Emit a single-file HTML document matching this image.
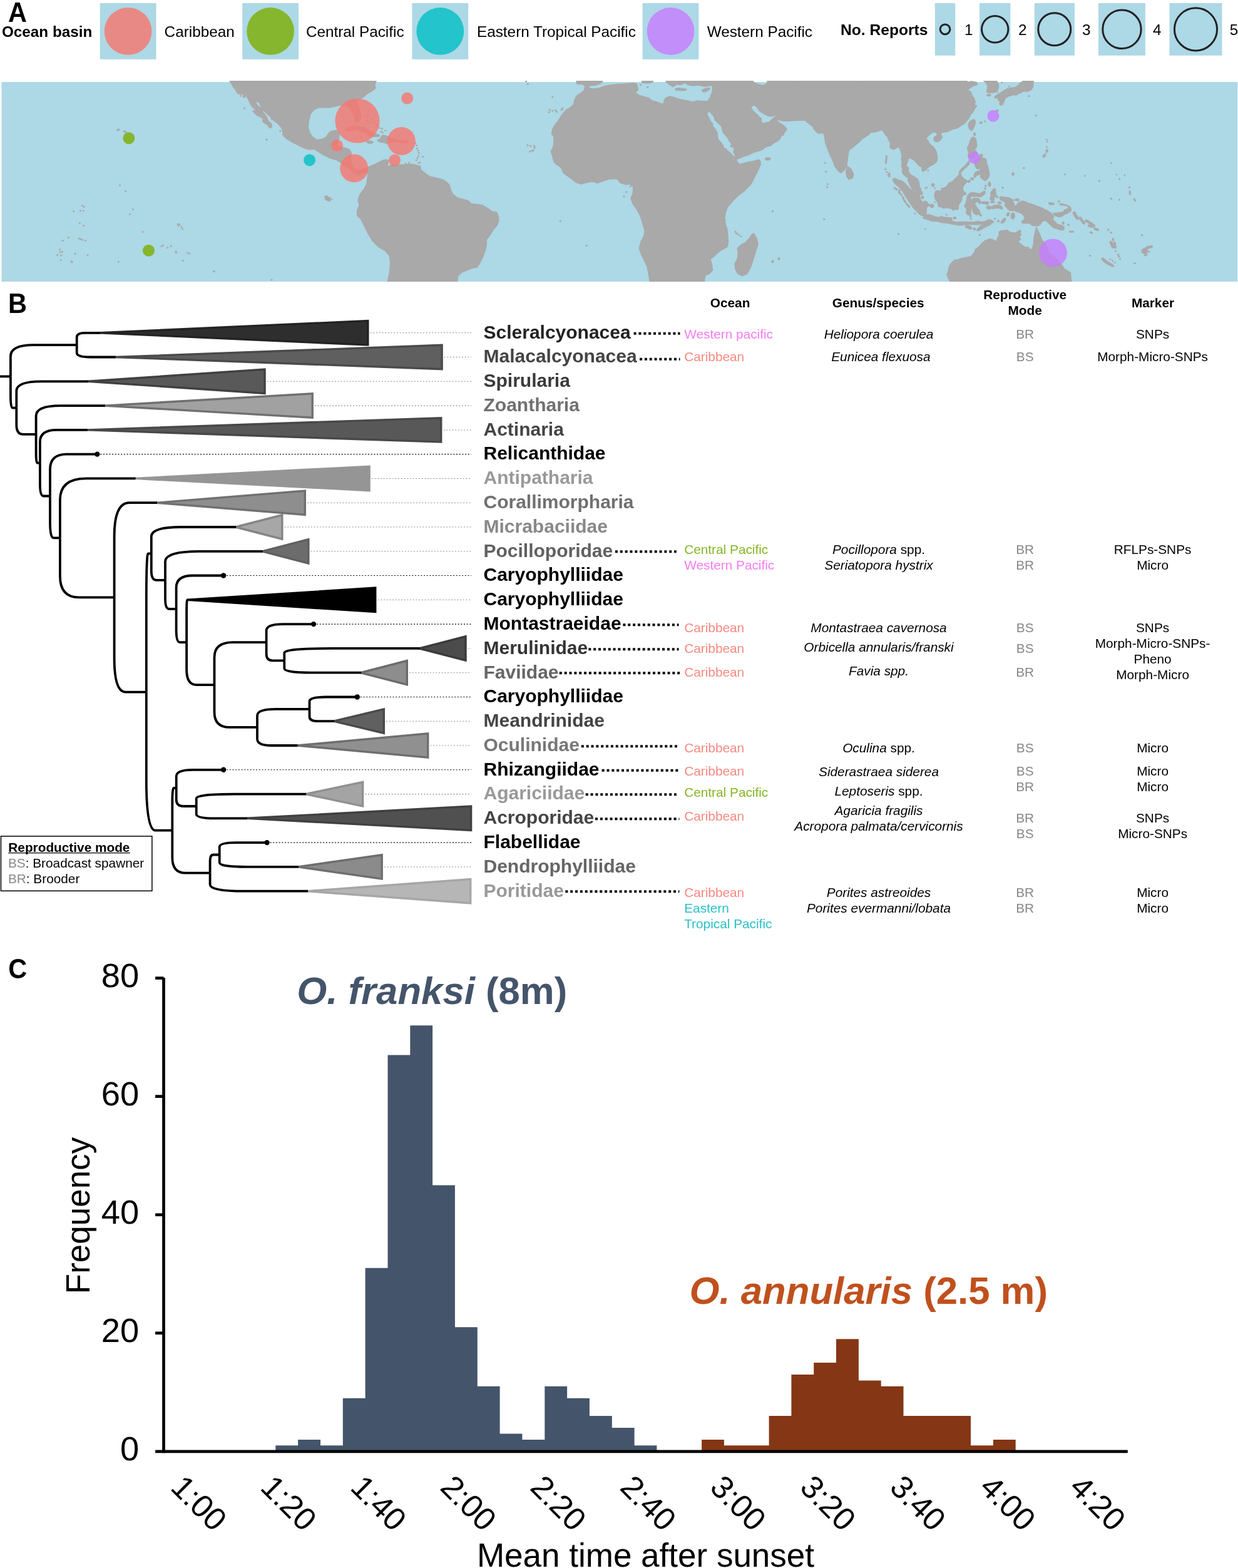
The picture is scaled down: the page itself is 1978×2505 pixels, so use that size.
<!DOCTYPE html>
<html lang="en"><head><meta charset="utf-8"><title>Figure</title>
<style>html,body{margin:0;padding:0;background:#fff}body{width:1978px;height:2505px;overflow:hidden}svg{display:block}text{font-family:'Liberation Sans', Arial, Helvetica, sans-serif}</style>
</head><body>
<svg width="1978" height="2505" viewBox="0 0 1978 2505">
<rect width="1978" height="2505" fill="#fff"/>
<g id="legendA">
<text transform="translate(13,35.1) scale(1,1.065)" font-size="41.5" font-weight="bold">A</text>
<text x="2.9" y="59.4" font-size="24.3" font-weight="bold">Ocean basin</text>
<rect x="159.7" y="5" width="89.8" height="89.8" fill="#ADD8E6"/>
<circle cx="204.6" cy="49.9" r="37.9" fill="#F8766D" fill-opacity="0.8"/>
<text x="262.6" y="59.4" font-size="24.3">Caribbean</text>
<rect x="387.2" y="5" width="89.8" height="89.8" fill="#ADD8E6"/>
<circle cx="432.1" cy="49.9" r="37.9" fill="#7CAE00" fill-opacity="0.8"/>
<text x="488.9" y="59.4" font-size="24.3">Central Pacific</text>
<rect x="658.4" y="5" width="89.8" height="89.8" fill="#ADD8E6"/>
<circle cx="703.3" cy="49.9" r="37.9" fill="#00BFC4" fill-opacity="0.8"/>
<text x="762" y="59.4" font-size="24.3">Eastern Tropical Pacific</text>
<rect x="1026.6" y="5" width="89.8" height="89.8" fill="#ADD8E6"/>
<circle cx="1071.5" cy="49.9" r="37.9" fill="#C77CFF" fill-opacity="0.8"/>
<text x="1129.7" y="59.4" font-size="24.3">Western Pacific</text>
<text x="1343" y="55.6" font-size="24.6" font-weight="bold">No. Reports</text>
<rect x="1493.8" y="5" width="32.5" height="83.7" fill="#ADD8E6"/>
<circle cx="1510" cy="46.8" r="7.9" fill="none" stroke="#222" stroke-width="3"/>
<text x="1541" y="55.6" font-size="24.3">1</text>
<rect x="1565" y="5" width="49.4" height="83.7" fill="#ADD8E6"/>
<circle cx="1589.7" cy="46.8" r="21.2" fill="none" stroke="#222" stroke-width="3"/>
<text x="1627" y="55.6" font-size="24.3">2</text>
<rect x="1652.8" y="5" width="64.1" height="83.7" fill="#ADD8E6"/>
<circle cx="1684.8" cy="46.8" r="26" fill="none" stroke="#222" stroke-width="3"/>
<text x="1729" y="55.6" font-size="24.3">3</text>
<rect x="1755" y="5" width="74.9" height="83.7" fill="#ADD8E6"/>
<circle cx="1792.5" cy="46.8" r="30.7" fill="none" stroke="#222" stroke-width="3"/>
<text x="1842" y="55.6" font-size="24.3">4</text>
<rect x="1868.5" y="5" width="84" height="83.7" fill="#ADD8E6"/>
<circle cx="1910.5" cy="46.8" r="34.1" fill="none" stroke="#222" stroke-width="3"/>
<text x="1964.8" y="55.6" font-size="24.3">5</text>
</g>
<g id="map">
<rect x="2.5" y="131" width="1974.8" height="318.9" fill="#ADD8E6"/>
<clipPath id="mc"><rect x="2.5" y="129" width="1974.8" height="320.9"/></clipPath>
<clipPath id="mc2"><rect x="2.5" y="131" width="1974.8" height="318.9"/></clipPath>
<g clip-path="url(#mc)" fill="#A9A9A9" stroke="#A9A9A9" stroke-width="1.5" stroke-linejoin="round">
<polygon points="366.6,128.3 368.8,132 372.3,138.2 375.8,142.6 378.4,147 380.2,149.6 384.6,150.5 389,150.5 392.5,152.2 395.1,155.7 397.8,161 400.4,166.3 403,170.7 405.7,172.9 409.2,175.9 407.9,177.7 405.7,175.9 404.3,177.7 406.5,180.3 410.1,183.8 413.6,185.6 417.1,187.4 420.6,190 419.7,193.5 421.5,196.1 425,197.9 427.6,199.6 429.4,202.3 431.1,204.5 433.8,203.2 434.6,200.5 432.9,197 431.1,195.3 429.4,194.4 427.6,191.7 426.7,188.2 425,185.6 422.4,182.1 419.7,178.6 418,175.1 416.2,172.4 414.9,170.2 412.7,169.8 410.9,168 409.6,165.4 408.3,162.3 411.8,162.8 414.4,163.6 415.8,167.2 417.5,170.7 418.4,174.2 420.6,176.4 424.1,179.4 427.6,183 431.1,185.6 432.9,187.4 433.3,190 436.4,191.7 439.9,194.4 443.4,197 446.9,200.5 449.6,204 451.3,207.6 452.4,216.3 452.4,216.3 457.1,221 466.5,226.9 475.8,231.6 485.2,236.2 494.6,239.1 501.6,238.1 508.6,242.1 518,248 527.4,252.6 539.1,256.1 546.1,260.8 555.5,267.9 564.8,274.9 571.9,279.6 577.7,277.2 583.6,274.9 587.8,277.2 587.1,284.3 585.9,293.6 581.2,303 575.4,310 571.9,319.4 574.2,328.7 570.7,335.8 570.7,344 576.5,349.8 581.2,359.2 588.2,373.2 595.3,385 604.6,394.3 616.3,401.3 622.2,408.4 623.8,420.1 622.2,436.5 619.2,450.5 730.4,450.5 731.6,441.2 737.5,435.3 745.7,431.8 753.9,428.3 762.1,427.1 766.7,420.1 771.4,410.7 774.9,401.3 777.3,392 777.3,382.6 782,376.8 787.8,367.4 793.7,360.4 796.7,353.3 796.5,346.3 793.7,339.3 786.7,338.1 778.5,332.3 770.3,327.6 760.9,326.4 752.7,325.2 748,320.6 739.8,318.2 730.4,315.9 723.4,310 719.9,303 717.6,294.8 709.4,287.8 700,285 696,284.3 686.6,281.9 679.6,277.2 672.6,271.4 671.4,265.5 663.2,263.2 656.2,262 646.8,263.2 639.8,263.2 630.4,264.3 624.5,263.2 619.9,266.7 618.7,265.5 621,256.1 617.5,255 611.7,256.1 604.6,259.7 597.6,263.2 591.8,265.5 585.9,268.3 578.9,270.2 571.9,272.1 563.7,267.9 561.3,260.8 560.1,251.5 561.3,244.4 557.8,238.6 550.8,236.2 543.7,235.1 539.1,230.4 540.2,228 541.4,221 542.6,212.8 539.1,208.1 529.7,209.3 525,212.8 521.5,218.7 515.6,222.2 506.3,223.4 499.3,218.7 494.6,211.7 492.2,202.3 493.4,192.9 495.7,182.4 501.6,175.4 508.6,171.8 515.6,171.4 525,171.8 532,170.7 541.4,168.3 550.4,167.9 555,169.3 558.5,171.6 560.9,175.1 562.1,178.6 563.8,182.2 565.6,185.7 567.3,189.2 568.5,192.7 567.9,195 570.3,195.3 573.2,193.9 575.5,190.4 576.7,186.8 576.1,182.2 574.9,177.5 573.8,172.8 572,168.1 570.8,163.4 571.4,159.9 576.1,157.6 580.8,155.2 584.3,151.7 589,148.2 593.7,145.9 598.4,142.3 600.1,140 599.5,141.4 598.8,135.5 601.1,129"/>
<polygon points="552.1,207.9 555,203.8 560.9,202.1 567.9,201.5 574.9,202.1 582,203.8 587.8,206.7 592.5,210.3 597.2,213.2 601.9,214.4 606,215.5 605.4,217.9 600.7,218.5 596,217.9 591.3,217.3 587.8,216.1 586.7,213.2 582,211.4 577.3,209.7 572.6,207.9 567.9,206.7 564.4,207.3 562.1,209.7 558.5,208.5 555,209.1"/>
<polygon points="585.5,226.1 590.2,224.9 594.8,226.1 596,227.8 592.5,229 587.8,228.8"/>
<polygon points="603,223.7 607.7,222 608.9,218.5 611.2,216.1 615.9,216.7 620.6,218.5 625.3,220.8 630,222 634.7,223.7 638.2,226.1 634.7,227.2 628.8,227.2 623,227.8 618.3,229.6 613.6,227.8 608.9,227.2 604.8,226.1"/>
<polygon points="638.2,224.9 644,224.3 651.1,224.9 652.2,227.2 646.4,228.4 639.3,227.8"/>
<polygon points="519.2,313.5 522.7,313.1 525,315.9 527.4,315.2 528.5,318.2 526.9,321.3 523.8,320.6 520.8,319.4 519.2,317"/>
<polygon points="1038.4,450.5 1036.1,436.5 1033.7,424.8 1029,415.4 1024.4,406 1021.3,396.7 1024.4,385 1029,376.8 1030.2,368.6 1026.7,356.9 1023.2,345.1 1018.5,335.8 1011.5,326.4 1008,317 1011.5,307.7 1011.5,298.3 1006.8,294.1 999.8,294.8 991.6,292.4 985.7,285.4 974,286.1 964.6,288.9 955.3,292.4 945.9,290.1 936.5,291.7 928.3,294.1 920.1,291.3 913.1,285.4 906.1,280.7 900.2,276.1 896.7,267.9 889.7,263.2 885,258.5 882.7,249.1 880.3,242.1 883.8,235.1 885,228 885,218.7 881.5,214 882.7,207 886.2,199.9 892,192.9 897.9,183.5 903.7,176.5 910.8,171.8 916.6,167.2 917.8,160.1 921.3,153.1 928.3,148.4 933,144.9 935.1,138.2 932.5,135.2 928.1,134.1 923.7,134.7 921.1,132.9 921.1,128.9 1544.4,128.2 1545.9,131.6 1551.7,130.1 1560.5,131.6 1561.2,135.2 1554.7,137.4 1548.8,141.1 1545.9,144 1551,147 1553.2,152.8 1556.9,157.9 1558.3,163.8 1556.1,166.7 1560.5,168.9 1557.6,173.3 1555.4,177.7 1551.7,182.1 1548.8,186.5 1547.3,190.1 1543,194.5 1542.9,195 1540.3,197.6 1536.8,199.8 1533.3,202 1529.8,204.7 1525.4,205.5 1521.9,206.4 1518.4,208.2 1514.8,209.9 1511.3,210.8 1507.8,211.2 1504.3,212.1 1502.6,213.9 1503.9,216.5 1505.6,218.7 1504.3,221.3 1502.6,223.5 1499.9,225.7 1497.3,226.6 1493.8,225.7 1492,223.1 1492,220.5 1493.8,218.3 1496.4,217 1497.7,214.8 1496.4,212.6 1493.8,211.2 1490.3,211.2 1487.6,213.4 1485,215.2 1482.4,217.8 1480.2,220.5 1480.6,223.1 1483.2,225.3 1484.1,228.4 1486.7,231 1489.4,233.2 1492,235.8 1494.2,238.9 1496,242.4 1496.8,246.8 1497.7,251.2 1497.3,255.6 1495.5,259.1 1492.9,261.7 1489.4,263.5 1485.9,265.3 1483.2,267 1480.6,269.6 1478,272.3 1475.3,273.6 1473.1,273.2 1473.1,269.6 1472.7,266.1 1470.9,266.1 1468.3,264.4 1465.7,261.7 1463,258.2 1460.4,255.6 1456.9,253.8 1454.2,253 1453.4,250.3 1451.6,253 1450.7,256.5 1449.4,260 1448.1,263.5 1448.5,266.1 1450.7,267 1451.6,269.6 1450.7,272.3 1452.5,275.8 1455.1,279.3 1458.6,281.1 1461.3,282.8 1464.3,285 1465.7,285.9 1467.4,288.5 1468.3,292 1468.7,295.5 1469.2,299.1 1470.1,302.6 1471.8,305.2 1473.6,307.8 1474,310 1471.8,311.3 1468.3,309.6 1464.8,307 1461.3,304.8 1458.6,302.6 1456,299.9 1454.2,296.4 1452.5,292 1450.7,288.5 1450.7,285 1450.7,282.8 1448.1,282.8 1445.5,280.2 1442.8,277.6 1441.5,274 1442,269.6 1440.6,265.3 1441.1,260 1440.2,254.7 1441.1,249.4 1440.2,245.1 1438.9,240.7 1437.6,237.2 1436.2,234.5 1432.3,236.3 1427.9,238.9 1423.5,237.2 1421.8,234.5 1422.6,230.1 1421.8,225.3 1420,224.9 1418.3,218.7 1413.6,214 1410.1,207.4 1399.6,210.5 1390.2,211.7 1387.9,215.2 1378.5,221 1371.5,228 1364.4,233.9 1356.3,239.8 1355.1,246.8 1353.9,256.1 1352.7,265.5 1349.2,271.4 1343.4,276.1 1338.7,272.5 1334,265.5 1330.5,256.1 1325.8,246.8 1322.3,237.4 1318.8,228 1317.6,218.7 1316.4,212.8 1308.2,212.8 1308.2,213.5 1307.4,212.8 1303,209.2 1300,205.5 1298.6,201.8 1294.2,198.9 1289.8,195.3 1286.9,192 1279.6,192.3 1272.2,192.6 1264.9,193.1 1257.6,193.5 1251.7,193.1 1245.9,192.3 1242.2,190.1 1240,185 1239.3,184.3 1240.8,187.9 1241.5,192.3 1244.4,196 1248.8,198.2 1252.5,201.1 1256.1,204.8 1256.9,207 1253.2,211.4 1251.7,215.7 1247.4,217.2 1247.4,220.1 1244.4,223.8 1240,226.7 1235.6,228.9 1231.3,232.6 1225.4,234 1221,236.2 1219.5,238.4 1213.7,240.6 1206.4,242.8 1200.5,245 1194.7,248 1188.8,249.4 1184.4,251.6 1178.6,253.8 1176.4,254.5 1176.4,255.3 1178.6,259.7 1181.5,262.6 1187.3,261.1 1194.7,258.9 1200.5,258.2 1206.4,256.7 1212.2,255.3 1214.9,257.5 1215.2,262.6 1213.7,265.5 1212.2,269.9 1209.3,275.8 1206.4,281.6 1203.4,287.5 1198.2,296 1188.8,305.3 1179.4,312.4 1170.1,321.7 1163,329.9 1159.5,338.1 1157.9,347.5 1158.8,356.9 1161.9,366.2 1163,377.9 1163.5,387.3 1161.9,394.3 1153.7,399 1146.7,403.7 1140.8,409.5 1134.9,414.2 1137.3,422.4 1138.5,431.8 1132.6,437.6 1126.7,440 1125.1,450.5"/>
<polygon points="1204,372.8 1208.7,380.3 1211.1,389.6 1207.5,401.3 1204,413.1 1199.3,427.1 1193.5,437.6 1185.3,440.5 1178.3,436.5 1174.8,429.4 1174.3,421.3 1178.3,413.1 1179.4,403.7 1178.3,396.7 1183,392 1191.1,387.3 1197,381.4 1200.5,375.6"/>
<polygon points="1353.9,265.5 1359.8,270.2 1363.7,278.4 1362.1,284.3 1356.3,286.6 1352.7,281.9 1351.6,273.7"/>
<polygon points="1222.8,253.8 1224.7,252 1228.3,252 1231,253.5 1229.8,255.3 1226.1,255.7 1223.6,255.3"/>
<polygon points="1553.2,191.6 1556.9,190.9 1558.3,193.8 1557.6,199.6 1555.4,204.8 1552.5,208.7 1549.5,207 1547.6,202.6 1547.3,198.2 1549.5,194.5"/>
<polygon points="1570.8,128.2 1575.2,132.3 1578.1,136.7 1577.3,142.6 1576.6,147 1581,148.4 1586.9,147.7 1591.3,146.2 1594.9,142.6 1595.6,138.2 1594.9,133.8 1592.7,130.1 1592,128.2"/>
<polygon points="1651.3,128.2 1650.5,138.2 1648.3,142.6 1643.9,145.5 1639.6,146.2 1635.2,145.5 1630.8,148.4 1626.4,149.9 1623.5,152.1 1619.1,151.3 1614.7,152.8 1610.3,154.3 1605.9,157.2 1604.4,161.6 1602.2,166.7 1599.3,168.2 1597.1,166 1597.8,161.6 1594.9,160.1 1594.2,156.5 1590.5,156.5 1589.1,155 1591.3,152.8 1594.9,150.6 1598.6,148.4 1603,145.5 1608.8,141.8 1616.1,140.4 1622,139.6 1626.4,136.7 1629.3,133.1 1632.2,131.6 1635.2,128.2"/>
<polygon points="1582.8,152.1 1582.5,152.6 1581.9,153.1 1581,153.4 1579.8,153.5 1578.7,153.4 1577.8,153.1 1577.1,152.6 1576.9,152.1 1577.1,151.5 1577.8,151 1578.7,150.7 1579.8,150.6 1581,150.7 1581.9,151 1582.5,151.5"/>
<polygon points="1594.9,175.9 1595,176.4 1594.8,177 1594.4,177.5 1593.7,178 1593,178.3 1592.3,178.4 1591.7,178.3 1591.4,178 1591.3,177.5 1591.5,177 1591.9,176.4 1592.6,175.9 1593.3,175.6 1594,175.5 1594.6,175.6"/>
<polygon points="1569.1,195.5 1569,195.9 1568.7,196.4 1568.1,196.8 1567.4,197.1 1566.6,197.2 1565.9,197.2 1565.4,196.9 1565.1,196.5 1565.2,196 1565.5,195.6 1566.1,195.1 1566.8,194.9 1567.6,194.7 1568.3,194.8 1568.8,195.1"/>
<polygon points="1558.2,214.3 1558.1,215.2 1557.9,215.9 1557.5,216.3 1557,216.5 1556.5,216.3 1556.1,215.9 1555.9,215.2 1555.8,214.3 1555.9,213.5 1556.1,212.8 1556.5,212.3 1557,212.1 1557.5,212.3 1557.9,212.8 1558.1,213.5"/>
<polygon points="1421.9,279.3 1421.8,280.7 1421.6,281.8 1421.2,282.6 1420.7,282.8 1420.2,282.6 1419.8,281.8 1419.6,280.7 1419.5,279.3 1419.6,278 1419.8,276.8 1420.2,276.1 1420.7,275.8 1421.2,276.1 1421.6,276.8 1421.8,278"/>
<polygon points="1426.6,286.3 1428.8,285.5 1433.2,287.2 1437.6,289.8 1442,295 1435.8,296 1429.7,291.6"/>
<polygon points="1553.7,219.4 1556.3,219 1559,222 1559.9,226.4 1560.7,230.8 1559.9,235.2 1558.1,237.8 1556.3,240 1559,241.3 1561.6,244 1559.9,250.1 1552,253.6 1547.6,251.9 1546.7,248.4 1547.6,243.1 1546.2,239.6 1545.8,236.1 1547.6,232.6 1548.9,229.1 1549.8,224.7 1552,221.1"/>
<polygon points="1565.1,248.4 1568.6,245.7 1570,247.9 1568.6,251 1570.4,252.8 1573.9,253.2 1575.7,255.4 1576.1,258.9 1576.5,261.5 1577.9,265.1 1578.7,267.7 1579.2,271.2 1580.5,275.6 1580.9,279.1 1580.1,282.6 1577.9,285.3 1575.7,287.9 1573.9,288.8 1571.3,287 1568.6,285.3 1566.4,282.6 1566.9,279.5 1565.1,278.2 1562.5,279.5 1559.9,280.4 1558.1,283.5 1556.3,282.6 1556.3,279.1 1557.7,276.5 1559.9,274.7 1563.4,273 1566,272.1 1567.8,270.3 1566,269 1563.4,269.9 1560.7,269.4 1559,266.8 1558.1,264.2 1557.2,261.5 1556.3,257.2 1559.9,254.5"/>
<polygon points="1532.2,275.6 1533.5,273 1536.1,269.9 1539.7,266.8 1543.2,263.3 1545.8,259.8 1547.6,257.2 1548.9,258.9 1548.4,262.4 1545.8,265.1 1543.2,267.7 1540.1,270.3 1537,273.4 1534.4,276.9 1532.6,277.8"/>
<polygon points="1555.6,286.3 1555.3,286.8 1554.7,287.2 1553.8,287.3 1552.9,287.1 1552,286.8 1551.3,286.3 1550.9,285.7 1550.9,285.1 1551.2,284.6 1551.9,284.2 1552.7,284.1 1553.7,284.3 1554.5,284.6 1555.2,285.1 1555.6,285.7"/>
<polygon points="1550.1,288.9 1550.1,289.5 1549.8,290.1 1549.3,290.7 1548.5,291 1547.7,291.2 1546.9,291.2 1546.3,290.9 1545.9,290.4 1545.9,289.8 1546.2,289.2 1546.7,288.6 1547.5,288.2 1548.3,288.1 1549.1,288.1 1549.7,288.4"/>
<polygon points="1582.6,294.5 1582.5,295.7 1582.1,296.7 1581.6,297.4 1580.9,297.6 1580.3,297.4 1579.8,296.7 1579.4,295.7 1579.3,294.5 1579.4,293.3 1579.8,292.2 1580.3,291.6 1580.9,291.3 1581.6,291.6 1582.1,292.2 1582.5,293.3"/>
<polygon points="1620.1,278.4 1619.8,279.2 1619.3,279.8 1618.7,280.1 1618.2,280.1 1617.6,279.8 1617.3,279.2 1617.2,278.5 1617.3,277.7 1617.6,276.9 1618.1,276.3 1618.6,276 1619.2,276 1619.8,276.3 1620.1,276.9 1620.2,277.6"/>
<polygon points="1674.1,241.6 1673.7,242.3 1673.2,242.8 1672.6,243.1 1672,243.1 1671.5,242.7 1671.2,242.1 1671.1,241.4 1671.3,240.6 1671.7,239.9 1672.2,239.3 1672.8,239.1 1673.4,239.1 1673.9,239.4 1674.2,240 1674.3,240.8"/>
<polygon points="1669.6,250.1 1669.1,250.7 1668.4,251.1 1667.7,251.3 1667.1,251.1 1666.6,250.6 1666.4,250 1666.4,249.2 1666.7,248.4 1667.2,247.8 1667.9,247.4 1668.6,247.2 1669.2,247.4 1669.7,247.9 1669.9,248.5 1669.9,249.3"/>
<polygon points="1426.6,285.9 1426.6,287.6 1428.8,292 1432.3,295.5 1435.8,298.2 1439.3,301.7 1442.8,306.1 1445.5,311.3 1449,316.6 1452.5,321.9 1456,327.2 1459.5,332.4 1463.9,336.8 1468.3,341.2 1472.7,344.7 1476.2,343.8 1479.7,343.4 1480.2,337.7 1480.2,332.9 1481.5,329.8 1484.5,328.9 1484.5,326.7 1482.4,325 1480.6,321.9 1477.1,321.4 1474.4,323.6 1472.7,321.9 1470.9,319.2 1470.1,314.9 1469.2,312.2 1466.5,309.6 1463.9,307.8 1460.4,306.1 1456.9,303.4 1453.4,301.7 1450.7,298.2 1448.1,295.5 1445.5,292.9 1442.8,290.3 1440.2,288.5 1436.7,288.1 1433.2,286.8 1429.7,285"/>
<polygon points="1491.8,328.9 1491.6,329.9 1491,330.8 1490,331.3 1488.9,331.5 1487.8,331.3 1486.9,330.8 1486.3,329.9 1486,328.9 1486.3,327.9 1486.9,327 1487.8,326.5 1488.9,326.3 1490,326.5 1491,327 1491.6,327.9"/>
<polygon points="1492.9,295.5 1492.7,296.4 1492.2,297.2 1491.5,297.7 1490.7,297.9 1489.9,297.7 1489.1,297.2 1488.7,296.4 1488.5,295.5 1488.7,294.6 1489.1,293.9 1489.9,293.3 1490.7,293.2 1491.5,293.3 1492.2,293.9 1492.7,294.6"/>
<polygon points="1475.6,315.3 1475.5,316 1475.1,316.7 1474.6,317.1 1474,317.2 1473.4,317.1 1472.9,316.7 1472.5,316 1472.4,315.3 1472.5,314.6 1472.9,313.9 1473.4,313.5 1474,313.4 1474.6,313.5 1475.1,313.9 1475.5,314.6"/>
<polygon points="1527.1,348.4 1527,348.9 1526.6,349.3 1526.1,349.6 1525.4,349.7 1524.7,349.6 1524.1,349.3 1523.8,348.9 1523.6,348.4 1523.8,347.9 1524.1,347.5 1524.7,347.2 1525.4,347.1 1526.1,347.2 1526.6,347.5 1527,347.9"/>
<polygon points="1438.5,304.3 1438.4,304.7 1438.1,305.1 1437.7,305.3 1437.1,305.4 1436.6,305.3 1436.1,305.1 1435.8,304.7 1435.7,304.3 1435.8,303.9 1436.1,303.6 1436.6,303.3 1437.1,303.3 1437.7,303.3 1438.1,303.6 1438.4,303.9"/>
<polygon points="1516.6,292 1512.2,298.2 1507.8,300.4 1504.3,300.8 1503.9,305.2 1499,304.8 1495.5,304.8 1493.3,309.6 1493.3,314 1494.6,318.4 1497.3,321.9 1499,326.3 1499.5,329.8 1503.4,330.7 1507.8,332.9 1511.3,331.5 1516.6,332.4 1521,333.3 1522.3,335.9 1526.3,334.2 1529.8,335.1 1531.5,332.4 1531.1,328.9 1532.8,325.4 1535,321.9 1536.8,318.4 1537.2,314 1540.3,311.3 1543.8,310 1542.9,307.8 1539.4,306.1 1538.6,302.6 1538.1,299.1 1540.3,295.5 1542.9,292.9 1544.7,289.4 1544.1,291.4 1544.9,288.8 1542.3,287 1538.8,284.4 1536.1,280.9 1535.3,278.2 1532.6,280 1535.9,281.1 1534.6,278.4 1532.4,278.9 1529.8,281.9 1526.3,285.5 1522.7,289 1519.2,291.6"/>
<polygon points="1547.9,310.7 1549.2,308.5 1552.7,307.7 1557.1,308.1 1561.5,309 1565.9,309.4 1569.4,307.2 1572,305.5 1574.2,306.3 1573.8,309 1571.1,311.6 1568.5,313.8 1565,314.2 1561.5,313.4 1557.1,313.8 1553.6,313.4 1550.9,314.2 1550.5,316.9 1551.8,319.5 1553.6,318.6 1556.2,316.4 1560.6,316.9 1564.5,317.3 1565.9,320.4 1566.7,323.9 1565,325.7 1563.2,323 1560.6,322.2 1558,323.9 1557.1,325.7 1558.8,328.3 1560.6,330.9 1561.5,333.6 1564.1,334.4 1565,338 1565.9,340.6 1567.2,343.2 1568.5,344.5 1567.2,345.4 1565,343.2 1563.2,341.5 1560.6,343.2 1558,342.4 1556.2,340.6 1554.4,338 1553.6,334.4 1552.7,331.8 1551.8,330.1 1550.9,331.8 1551.4,336.2 1550.9,341.5 1551.4,345.9 1550.1,346.7 1548.7,343.2 1546.5,343.2 1544.3,341.5 1543.9,338 1544.8,334.4 1543.5,331.8 1541.3,330.1 1541.3,327.4 1543,325.7 1543.9,322.2 1544.8,318.6 1545.2,315.1 1546.1,312.5"/>
<polygon points="1568.1,323 1571.1,322.2 1575.5,322.4 1579.5,323 1579,324.8 1577.7,327.4 1576,325.7 1572,325.2 1568.5,324.8"/>
<polygon points="1583.8,331.6 1583.5,332.6 1582.7,333.4 1581.5,333.9 1580.1,334.1 1578.7,333.9 1577.5,333.4 1576.7,332.6 1576.4,331.6 1576.7,330.7 1577.5,329.9 1578.7,329.4 1580.1,329.2 1581.5,329.4 1582.7,329.9 1583.5,330.7"/>
<polygon points="1584.7,330.1 1587.8,328.3 1592.2,327.4 1596.6,327.9 1600.1,329.6 1601.9,332.3 1601,334.4 1597.5,332.7 1593.1,332.3 1588.7,333.1 1585.6,333.6"/>
<polygon points="1588.6,322.6 1588.4,323.1 1587.8,323.6 1586.9,323.9 1585.8,324 1584.7,323.9 1583.8,323.6 1583.2,323.1 1583,322.6 1583.2,322.1 1583.8,321.6 1584.7,321.3 1585.8,321.2 1586.9,321.3 1587.8,321.6 1588.4,322.1"/>
<polygon points="1599.7,324.1 1599.5,324.7 1598.9,325.2 1598,325.5 1597,325.7 1596,325.5 1595.2,325.2 1594.6,324.7 1594.4,324.1 1594.6,323.5 1595.2,323 1596,322.6 1597,322.5 1598,322.6 1598.9,323 1599.5,323.5"/>
<polygon points="1588.7,301.1 1590.9,302.8 1590.5,306.3 1591.3,309.9 1592.2,312.5 1594.8,315.1 1593.5,316 1590.5,313.8 1588.7,314.2 1587.8,316 1588.7,318.6 1586.9,320 1583.4,319.5 1581.7,317.8 1582.1,315.1 1583.9,313.4 1583.4,310.7 1582.6,309 1583.9,306.3 1585.6,303.7 1587.4,302"/>
<polygon points="1582.3,294.1 1582.2,295.2 1581.8,296.2 1581.4,296.8 1580.8,297 1580.2,296.8 1579.7,296.2 1579.4,295.2 1579.3,294.1 1579.4,292.9 1579.7,291.9 1580.2,291.3 1580.8,291.1 1581.4,291.3 1581.8,291.9 1582.2,292.9"/>
<polygon points="1555.3,286 1555,286.5 1554.4,286.7 1553.6,286.8 1552.8,286.7 1552,286.4 1551.4,285.9 1551,285.4 1551,284.9 1551.3,284.4 1551.9,284.1 1552.6,284.1 1553.5,284.2 1554.3,284.5 1554.9,284.9 1555.2,285.5"/>
<polygon points="1549.9,288.7 1549.9,289.2 1549.7,289.7 1549.3,290.2 1548.6,290.6 1547.9,290.8 1547.3,290.8 1546.7,290.7 1546.4,290.3 1546.3,289.8 1546.5,289.3 1547,288.8 1547.6,288.4 1548.3,288.1 1549,288.1 1549.5,288.3"/>
<polygon points="1527.4,348.3 1527.3,348.8 1526.8,349.3 1526.2,349.5 1525.5,349.6 1524.7,349.5 1524.1,349.3 1523.7,348.8 1523.5,348.3 1523.7,347.8 1524.1,347.4 1524.7,347.1 1525.5,347 1526.2,347.1 1526.8,347.4 1527.3,347.8"/>
<polygon points="1475.3,346.5 1476.2,344.7 1479.7,343.4 1485,343 1490.3,344.7 1494.6,346.5 1500.8,347.4 1503.4,345.6 1507.8,346.9 1513.1,347.5 1518.4,347.8 1521.4,349.1 1521,350.9 1517.5,351.3 1520.1,352.6 1525.4,354.4 1530.7,354.8 1535.9,354.4 1542.9,354.4 1550,354.8 1557,354.4 1564,353.5 1565,354.6 1570.3,354.6 1575.5,352.9 1579,351.1 1583.4,351.6 1586.9,353.8 1587.8,355.1 1584.3,356.4 1579,356.8 1573.8,358.2 1568.5,357.7 1563.2,358.6 1564,358.8 1557,358.8 1550,358.3 1542.9,358.8 1534.2,360.1 1527.1,358.8 1521.9,358.3 1516.6,357 1511.3,356.1 1506.1,355.7 1500.8,354.4 1495.5,353.1 1490.3,353.5 1485,351.7 1480.6,350.4 1476.2,349.1 1474.9,347.8"/>
<polygon points="1542.2,361.2 1544.8,359.9 1549.2,360.8 1552.3,363 1552.7,365.2 1550.1,366.1 1546.5,364.7 1543.5,363.4"/>
<polygon points="1558.8,365.9 1558.6,366.5 1558.2,366.9 1557.6,367.3 1556.9,367.4 1556.2,367.3 1555.6,366.9 1555.2,366.5 1555.1,365.9 1555.2,365.3 1555.6,364.8 1556.2,364.5 1556.9,364.4 1557.6,364.5 1558.2,364.8 1558.6,365.3"/>
<polygon points="1560.6,367.8 1563.2,364.3 1566.7,360.8 1570.3,358.6 1574.6,357.7 1579,357.3 1582.6,356.4 1583.9,357.3 1581.7,359.5 1578.2,360.8 1574.6,362.6 1571.1,364.7 1567.6,366.5 1564.1,368.3 1561.9,368.9"/>
<polygon points="1599.2,355.5 1601.9,351.1 1604.9,348.5 1607.1,349.4 1605.4,352.9 1602.7,356 1600.6,356.8"/>
<polygon points="1608.5,341.5 1611.1,339.7 1612.8,340.6 1612,343.7 1609.8,345.4 1608.5,344.1"/>
<polygon points="1615.5,343.2 1617.7,340.2 1620.3,340.6 1621.2,345 1620.3,348.5 1617.7,349.8 1615.5,348.1"/>
<polygon points="1597.3,315.3 1600.4,314 1603.9,315.3 1607.4,315.3 1610.9,315.7 1614.4,317.1 1617.1,318.4 1618.4,321 1619.7,324.5 1621.5,328.9 1622.8,329.8 1625,326.3 1627.6,323.6 1630.3,322.3 1633.8,321 1637.3,321.9 1640.8,323.6 1644.3,325 1647.8,325.8 1652.2,327.6 1656.6,329.3 1661,330.7 1665.4,332.4 1669.8,335.1 1674.2,336.8 1676.8,339.4 1678.6,341.2 1681.2,343.8 1683.8,346.5 1682.9,348.2 1682.1,350 1682.9,351.7 1685.6,354.4 1688.2,357 1690.9,358.8 1694.4,359.6 1697,360.5 1699.6,362.3 1700.5,364.9 1698.8,367.6 1695.2,367.6 1691.7,366.2 1687.3,364.9 1683.8,364 1681.2,362.3 1678.6,359.6 1675.9,357 1673.3,354.4 1670.7,352.6 1668,352.6 1665.4,353.5 1663.6,356.1 1661.9,358.8 1659.2,360.5 1654.8,361 1650.5,360.5 1647.8,358.8 1645.2,357 1641.7,356.6 1637.3,356.6 1633.8,356.6 1632.5,355.3 1633.8,352.6 1636.4,350.9 1637.3,348.2 1636.4,345.6 1634.6,343 1632,341.2 1628.5,339.4 1625,338.1 1621.5,336.8 1618,335.9 1615.3,336.4 1612.7,335.9 1610.1,334.2 1609.2,331.5 1606.5,329.8 1605.2,328 1606.5,325.4 1605.7,322.8 1603,321 1599.5,319.7 1597.8,317.5"/>
<polygon points="1682.5,341.2 1686.5,340.3 1691.7,339.9 1695.7,339.4 1699.6,337.7 1701,335.1 1704.5,334.2 1707.1,332.4 1707.5,330.2 1704.9,328.9 1700.5,328 1696.1,327.6 1693,326.7 1693.5,325.4 1697,325.6 1702.3,327.2 1706.7,328.5 1710,330.7 1711.5,334.2 1710.6,337.7 1707.5,339.4 1704.9,341.2 1701.4,342.1 1698.8,344.3 1695.2,346 1691.7,346.5 1688.2,345.2 1684.7,343.8 1682.9,343"/>
<polygon points="1628.5,319.8 1628.1,320.3 1627.4,320.7 1626.3,320.9 1625.2,320.8 1624,320.5 1623.1,320 1622.5,319.4 1622.4,318.7 1622.7,318.2 1623.5,317.8 1624.5,317.6 1625.7,317.7 1626.8,318 1627.8,318.5 1628.3,319.1"/>
<polygon points="1582.4,294.2 1582.3,295.4 1582,296.3 1581.5,297 1580.9,297.2 1580.3,297 1579.8,296.3 1579.5,295.4 1579.4,294.2 1579.5,293.1 1579.8,292.1 1580.3,291.5 1580.9,291.2 1581.5,291.5 1582,292.1 1582.3,293.1"/>
<polygon points="1683.8,326.1 1683.4,326.6 1682.4,326.9 1681.1,327 1679.6,326.9 1678.1,326.5 1676.9,326 1676.2,325.3 1676,324.7 1676.4,324.2 1677.3,323.9 1678.6,323.8 1680.1,323.9 1681.6,324.3 1682.8,324.8 1683.6,325.5"/>
<polygon points="1699.9,356.6 1699.8,357.3 1699.6,357.9 1699.2,358.4 1698.8,358.5 1698.3,358.4 1697.9,357.9 1697.7,357.3 1697.6,356.6 1697.7,355.8 1697.9,355.2 1698.3,354.8 1698.8,354.6 1699.2,354.8 1699.6,355.2 1699.8,355.8"/>
<polygon points="1518.1,450.4 1515.1,444.5 1512.9,438.7 1515.1,432.8 1516.6,425.5 1519.5,421.1 1523.9,416.7 1531.2,414.5 1538.6,412.3 1545.9,410.9 1551.7,409.4 1556.9,403.6 1558.3,398.4 1564.2,394 1568.6,388.9 1573.7,384.5 1581,381.6 1586.9,383.1 1591.3,386 1596.6,374.8 1596.2,370.5 1599.2,368.7 1604.5,368.3 1608.9,367.4 1611.5,369.6 1615,371.3 1620.3,372.2 1623.8,371.3 1627.3,369.1 1629.5,367.4 1630.9,369.6 1630,373.1 1631.3,375.7 1627.8,378.7 1630.8,382.3 1626.4,386 1630.8,389.7 1635.2,393.3 1639.6,395.5 1643.2,394.8 1645.4,399.2 1649.1,397.7 1651.3,390.4 1652,380.1 1654.2,369.9 1655.7,363.3 1658.3,368.4 1661.2,374.3 1663.4,380.1 1665.6,384.5 1670.7,390.4 1673.7,397.7 1676.6,405 1682.4,409.4 1688.3,413.8 1692.7,419.7 1697.1,424.1 1700,429.2 1705.9,432.8 1710.3,435.8 1711,443.1 1711.7,450.4"/>
<polygon points="1825.2,398.4 1829.5,396.5 1833.5,398.9 1833.5,402.8 1829.8,405.5 1825.6,404.3 1824.1,401.4"/>
<polygon points="391.4,154 391.2,154.7 390.9,155.3 390.4,155.7 389.9,155.8 389.3,155.7 388.8,155.3 388.5,154.7 388.4,154 388.5,153.3 388.8,152.7 389.3,152.3 389.9,152.1 390.4,152.3 390.9,152.7 391.2,153.3"/>
</g>
<g clip-path="url(#mc2)" fill="#ADD8E6" stroke="none">
<polygon points="941.3,139.9 942.2,137.6 950.9,136.9 958,134.7 962.4,132.4 963.2,131.1 1024.7,131.1 1025.6,132.9 1033.5,133.4 1040.5,132.9 1044,131.1 1063.4,131.1 1068.6,135.5 1075.7,139.4 1080.9,135.5 1088.8,135.9 1093.2,132.9 1098.5,135.5 1103.8,137.3 1110.8,137.6 1116.1,136.4 1121.3,138.2 1128.4,139.1 1133.6,137.3 1137.5,137.6 1138,142.6 1136.3,149.6 1133.6,156.6 1130.1,161 1123.1,161 1114.3,160.1 1107.3,162.2 1102,161 1093.2,159.3 1084.4,157.5 1077.4,154.9 1070.4,153.1 1063.4,155.7 1060.7,159.3 1059.8,164.5 1056.3,165 1049.3,161.9 1041.4,160.1 1037,155.7 1028.2,153.5 1021.2,151.3 1015.9,147.8 1020.3,144.3 1019.4,139.1 1018,133.8 1014.2,132 1005.4,132.4 994.9,133.4 984.3,134.1 973.8,135.2 965,137.3 956.2,140.5 947.4,141.2"/>
<polygon points="1130.3,180.6 1133.9,178.9 1136.8,182.8 1140.5,187.2 1141.2,191.6 1144.9,195.3 1149.3,198.9 1152.2,202.6 1153.7,209.2 1155.1,212.8 1159.5,217.2 1162.5,220.9 1164.7,226 1168.3,230.4 1171.2,234 1172,239.2 1171.2,243.6 1173.4,246.5 1174.2,250.6 1172.7,249.4 1169,245.8 1165.4,242.1 1162.5,240.6 1160.3,236.2 1157.3,237 1155.9,231.9 1152.9,227.5 1149.3,223.8 1147.1,220.1 1147.1,212.8 1144.9,208.4 1142,204 1139,201.1 1139.8,198.2 1136.1,193.8 1133.2,187.9 1131,183.5"/>
<polygon points="1200.5,171.1 1204.2,168.9 1207.8,170.4 1210.8,174.8 1213.7,178.4 1217.3,180.6 1221,182.8 1225.4,185 1229.8,186.5 1234.2,186.5 1237.8,185 1239.3,184.3 1235.6,187.9 1232,190.9 1228.3,194.5 1223.9,195.3 1221,196 1218.1,196 1216.6,192.3 1217.3,188.7 1213.7,186.5 1211.5,183.5 1207.8,180.6 1204.9,177.7 1202,174"/>
<polygon points="1204.2,130.6 1225.4,130.6 1224.7,133.1 1221,135 1215.2,135.2 1210.8,133.8 1206.4,132"/>
</g>
<g clip-path="url(#mc)" fill="#A9A9A9" stroke="#A9A9A9" stroke-width="1.5" stroke-linejoin="round">
<polygon points="1079.2,141.7 1084.4,140.8 1091.5,141.7 1096.7,142.6 1095.9,144.3 1089.7,144.7 1082.7,144.3 1079.2,143.4"/>
<polygon points="1122.2,143.4 1126.6,141.7 1131.9,140.5 1134.5,140.8 1132.7,143.4 1128.4,146.1 1124,147 1121.7,145.2"/>
<polygon points="1167.6,231.9 1170.1,231.6 1171.2,233.6 1169.8,235.1 1167.6,234.5"/>
</g>
<g clip-path="url(#mc)" fill="none" stroke="#A9A9A9" stroke-linecap="round" stroke-linejoin="round">
<polyline points="1416.4,249.6 1415.5,260.4" stroke-width="3"/>
<polyline points="896.7,176.1 899.5,172.5" stroke-width="2.2"/>
<polyline points="1429.2,300.4 1433.2,302.6" stroke-width="3"/>
<polyline points="1436.2,307.4 1440.6,311.8" stroke-width="3"/>
<polyline points="1442.4,314.9 1443.7,317.5" stroke-width="3"/>
<polyline points="1444.2,319.7 1447.2,323.6" stroke-width="3"/>
<polyline points="1449,326.3 1452.9,330.7" stroke-width="3"/>
<polyline points="1676.6,324.8 1683.2,326" stroke-width="3.2"/>
<polyline points="1716.4,340.3 1718.3,344.3 1721.4,348.8" stroke-width="5.2"/>
<polyline points="1725.9,348.2 1728.6,352.3 1731.9,356.4" stroke-width="4.6"/>
<polyline points="1735.4,352.6 1742.5,356.7 1748,360.8" stroke-width="4.4"/>
<polyline points="1739.8,360.4 1745.1,361.8" stroke-width="4.4"/>
<polyline points="1749.3,365.5 1753.9,367" stroke-width="4.2"/>
<polyline points="1709.5,370.2 1714.6,370.3" stroke-width="3"/>
<polyline points="1742.2,371.1 1744.7,372.2" stroke-width="3"/>
<polyline points="1761.8,413.8 1768.8,419.7 1776.6,423.8" stroke-width="4.8"/>
<polyline points="1774.8,387 1778.2,394.5" stroke-width="4.8"/>
<polyline points="1780.5,387.8 1782,395.2" stroke-width="4.2"/>
<polyline points="1778.3,381.6 1778.5,383.8" stroke-width="3.2"/>
<polyline points="1786.4,406.5 1787.8,410.1" stroke-width="3"/>
<polyline points="1805.1,305.5 1805.5,310.2" stroke-width="3"/>
<polyline points="1812,317.5 1813.9,320.9" stroke-width="2.6"/>
<polyline points="1832.5,395.9 1839.8,393.8" stroke-width="4.4"/>
<polyline points="1829.1,408 1832,406.9" stroke-width="3"/>
</g>
<g clip-path="url(#mc)" fill="#A9A9A9">
<circle cx="570.3" cy="220.6" r="1.5"/>
<circle cx="576.7" cy="218.7" r="1.5"/>
<circle cx="583.1" cy="184.7" r="1.5"/>
<circle cx="587.8" cy="185.1" r="1.5"/>
<circle cx="586.7" cy="192.7" r="1.5"/>
<circle cx="589" cy="196.2" r="1.5"/>
<circle cx="593.7" cy="190.4" r="1.5"/>
<circle cx="598.4" cy="195" r="1.5"/>
<circle cx="601.9" cy="199.7" r="1.5"/>
<circle cx="604.2" cy="202.1" r="1.5"/>
<circle cx="606.6" cy="204.4" r="1.5"/>
<circle cx="610.7" cy="205.6" r="1.5"/>
<circle cx="608.9" cy="210.3" r="1.5"/>
<circle cx="611.2" cy="212" r="1.5"/>
<circle cx="615.9" cy="208.5" r="1.5"/>
<circle cx="663.9" cy="229" r="1.5"/>
<circle cx="665.7" cy="232.5" r="1.5"/>
<circle cx="666.3" cy="237.2" r="1.5"/>
<circle cx="668" cy="240.7" r="1.5"/>
<circle cx="669.2" cy="244.2" r="1.5"/>
<circle cx="668.6" cy="248.9" r="1.5"/>
<circle cx="666.9" cy="252.4" r="1.5"/>
<circle cx="665.1" cy="255.9" r="1.5"/>
<circle cx="675.6" cy="250.3" r="1.5"/>
<circle cx="669.2" cy="260.6" r="1.5"/>
<circle cx="648.1" cy="261.2" r="1.5"/>
<circle cx="653.4" cy="260" r="1.5"/>
<circle cx="671" cy="259.4" r="1.5"/>
<circle cx="426.2" cy="223.1" r="1.6"/>
<circle cx="341.9" cy="433.4" r="1.6"/>
<circle cx="434.1" cy="447" r="1.6"/>
<circle cx="531.3" cy="318.4" r="1.2"/>
<circle cx="187.4" cy="207.9" r="1.5"/>
<circle cx="190.2" cy="207" r="1.5"/>
<circle cx="197.9" cy="209.8" r="1.5"/>
<circle cx="201.4" cy="210.9" r="1.5"/>
<circle cx="191.3" cy="296" r="1.5"/>
<circle cx="200.7" cy="305.6" r="1.5"/>
<circle cx="131.4" cy="328.5" r="1.5"/>
<circle cx="134.2" cy="330.2" r="1.5"/>
<circle cx="117.6" cy="337.4" r="1.5"/>
<circle cx="128.6" cy="336.7" r="1.5"/>
<circle cx="133.3" cy="336.7" r="1.5"/>
<circle cx="212.4" cy="334.6" r="1.5"/>
<circle cx="207.7" cy="342.1" r="1.5"/>
<circle cx="127.4" cy="356.4" r="1.5"/>
<circle cx="133.7" cy="360.4" r="1.5"/>
<circle cx="227.9" cy="370.4" r="1.5"/>
<circle cx="284.1" cy="358" r="1.5"/>
<circle cx="286.9" cy="358.5" r="1.5"/>
<circle cx="284.8" cy="360.6" r="1.5"/>
<circle cx="289.9" cy="362.5" r="1.5"/>
<circle cx="291.6" cy="365.7" r="1.5"/>
<circle cx="109.4" cy="379.3" r="1.5"/>
<circle cx="100.2" cy="384.3" r="1.5"/>
<circle cx="126.5" cy="381" r="1.5"/>
<circle cx="128.8" cy="382.1" r="1.5"/>
<circle cx="131.6" cy="383.1" r="1.5"/>
<circle cx="136.3" cy="384.3" r="1.5"/>
<circle cx="95.8" cy="398.5" r="1.5"/>
<circle cx="96" cy="402.5" r="1.5"/>
<circle cx="99.3" cy="402.3" r="1.5"/>
<circle cx="91.6" cy="407.2" r="1.5"/>
<circle cx="97.9" cy="408.1" r="1.5"/>
<circle cx="97.2" cy="415.6" r="1.5"/>
<circle cx="120.1" cy="405.3" r="1.5"/>
<circle cx="140" cy="407.7" r="1.5"/>
<circle cx="113.8" cy="417.7" r="1.5"/>
<circle cx="115.2" cy="418.7" r="1.5"/>
<circle cx="189.2" cy="418.2" r="1.5"/>
<circle cx="258.1" cy="393.6" r="1.5"/>
<circle cx="260.4" cy="392" r="1.5"/>
<circle cx="267.7" cy="395.7" r="1.5"/>
<circle cx="273.1" cy="393.1" r="1.5"/>
<circle cx="281" cy="401.8" r="1.5"/>
<circle cx="281.5" cy="403.7" r="1.5"/>
<circle cx="299.8" cy="403.9" r="1.5"/>
<circle cx="302.8" cy="405.1" r="1.5"/>
<circle cx="292.3" cy="416.3" r="1.5"/>
<circle cx="341.9" cy="433.7" r="1.5"/>
<circle cx="188.8" cy="207.4" r="1.8"/>
<circle cx="199.5" cy="210.2" r="1.8"/>
<circle cx="1023.8" cy="135.5" r="1.6"/>
<circle cx="1034.9" cy="139.4" r="1.6"/>
<circle cx="1414.8" cy="270.2" r="1.6"/>
<circle cx="1417.1" cy="274.9" r="1.6"/>
<circle cx="1419.5" cy="279.6" r="1.6"/>
<circle cx="1318.3" cy="260.1" r="1.6"/>
<circle cx="1319.7" cy="274.2" r="1.6"/>
<circle cx="1322.1" cy="294.1" r="1.6"/>
<circle cx="1321.4" cy="299" r="1.6"/>
<circle cx="1234.5" cy="337.4" r="1.6"/>
<circle cx="1316.7" cy="350.3" r="1.6"/>
<circle cx="1435.4" cy="373.9" r="1.6"/>
<circle cx="1175.2" cy="370.4" r="1.6"/>
<circle cx="1177.1" cy="373.2" r="1.6"/>
<circle cx="1180.6" cy="375.1" r="1.6"/>
<circle cx="1184.1" cy="377.5" r="1.6"/>
<circle cx="1157.9" cy="339.3" r="1.6"/>
<circle cx="1158.4" cy="352.2" r="1.6"/>
<circle cx="1234.5" cy="417.7" r="2.2"/>
<circle cx="1244.5" cy="413.5" r="2.2"/>
<circle cx="878" cy="175.4" r="1.6"/>
<circle cx="882.7" cy="177" r="1.6"/>
<circle cx="887.4" cy="176.1" r="1.6"/>
<circle cx="889.7" cy="178.4" r="1.6"/>
<circle cx="897.9" cy="174.2" r="1.6"/>
<circle cx="877.3" cy="179.3" r="1.6"/>
<circle cx="882.7" cy="155" r="1.6"/>
<circle cx="840.5" cy="129.7" r="1.6"/>
<circle cx="843.3" cy="134.4" r="1.6"/>
<circle cx="842.9" cy="231.8" r="1.6"/>
<circle cx="847.5" cy="233.4" r="1.6"/>
<circle cx="853.6" cy="233.2" r="1.6"/>
<circle cx="854.1" cy="236.2" r="1.6"/>
<circle cx="852.2" cy="240.2" r="1.6"/>
<circle cx="849.9" cy="240.9" r="1.6"/>
<circle cx="846.4" cy="242.1" r="1.6"/>
<circle cx="1007.3" cy="297.8" r="1.6"/>
<circle cx="1000.9" cy="306.7" r="1.6"/>
<circle cx="997" cy="313.8" r="1.6"/>
<circle cx="895.3" cy="353.3" r="1.6"/>
<circle cx="937.2" cy="392.4" r="1.6"/>
<circle cx="1600.8" cy="132" r="1.5"/>
<circle cx="1612.5" cy="138.2" r="1.5"/>
<circle cx="1593.4" cy="147" r="1.5"/>
<circle cx="1643.9" cy="153.5" r="1.5"/>
<circle cx="1655.4" cy="184.7" r="1.5"/>
<circle cx="1635.9" cy="268.4" r="1.5"/>
<circle cx="1618.6" cy="278.2" r="1.5"/>
<circle cx="1573.7" cy="194.1" r="1.5"/>
<circle cx="1590.1" cy="155.4" r="1.5"/>
<circle cx="1482.8" cy="272.3" r="1.4"/>
<circle cx="1557.7" cy="215.4" r="1.4"/>
<circle cx="1574.8" cy="297.1" r="1.4"/>
<circle cx="1573.9" cy="301.5" r="1.4"/>
<circle cx="1602" cy="300" r="1.4"/>
<circle cx="1635.8" cy="268.4" r="1.4"/>
<circle cx="1672.4" cy="223.1" r="1.4"/>
<circle cx="1673.1" cy="226.4" r="1.4"/>
<circle cx="1672.4" cy="235" r="1.4"/>
<circle cx="1670.3" cy="245.7" r="1.4"/>
<circle cx="1493.8" cy="322.8" r="1.4"/>
<circle cx="1493.6" cy="300.6" r="1.4"/>
<circle cx="1478.4" cy="300.4" r="1.4"/>
<circle cx="1481" cy="299.5" r="1.4"/>
<circle cx="1470.9" cy="301.2" r="1.4"/>
<circle cx="1461.7" cy="340.9" r="1.4"/>
<circle cx="1478.4" cy="365.8" r="1.4"/>
<circle cx="1435.6" cy="374.1" r="1.4"/>
<circle cx="1512.2" cy="343" r="1.4"/>
<circle cx="1551.3" cy="349.3" r="1.4"/>
<circle cx="1565.3" cy="375.3" r="1.4"/>
<circle cx="1557" cy="365.8" r="1.4"/>
<circle cx="1551.4" cy="349.4" r="1.4"/>
<circle cx="1574.2" cy="301.5" r="1.4"/>
<circle cx="1601.9" cy="300" r="1.4"/>
<circle cx="1512.3" cy="343.1" r="1.4"/>
<circle cx="1565.2" cy="375.3" r="1.4"/>
<circle cx="1589.6" cy="349.6" r="1.4"/>
<circle cx="1574.6" cy="297.1" r="1.7"/>
<circle cx="1595" cy="353.3" r="1.7"/>
<circle cx="1620.6" cy="319.7" r="1.4"/>
<circle cx="1602.2" cy="299.9" r="1.4"/>
<circle cx="1574.1" cy="301.2" r="1.4"/>
<circle cx="1679.4" cy="340.3" r="1.4"/>
<circle cx="1565.3" cy="375.3" r="1.4"/>
<circle cx="1589.9" cy="349.5" r="1.4"/>
<circle cx="1574.5" cy="296.9" r="1.7"/>
<circle cx="1691.7" cy="321.9" r="1.7"/>
<circle cx="1595.1" cy="353.3" r="1.7"/>
<circle cx="1707.1" cy="359.2" r="1.7"/>
<circle cx="1525.7" cy="415.7" r="1.4"/>
<circle cx="1692" cy="321.6" r="1.5"/>
<circle cx="1698.8" cy="356.3" r="1.5"/>
<circle cx="1707" cy="358.9" r="1.5"/>
<circle cx="1771" cy="367.3" r="1.5"/>
<circle cx="1775.4" cy="371.4" r="1.5"/>
<circle cx="1741.7" cy="408.4" r="1.5"/>
<circle cx="1756.4" cy="289" r="1.5"/>
<circle cx="1788.6" cy="285.7" r="1.5"/>
<circle cx="1775.4" cy="317.2" r="1.5"/>
<circle cx="1788.3" cy="319.1" r="1.5"/>
<circle cx="1804.7" cy="299.6" r="1.5"/>
<circle cx="1824.9" cy="375.7" r="1.5"/>
<circle cx="1813.2" cy="420.7" r="1.5"/>
<circle cx="1782.7" cy="401.1" r="1.5"/>
<circle cx="1789.6" cy="413.5" r="1.5"/>
<circle cx="1773.9" cy="414.5" r="1.5"/>
<circle cx="1777.6" cy="416.7" r="1.5"/>
<circle cx="1781.2" cy="419.4" r="1.5"/>
<circle cx="1778.8" cy="425.2" r="1.5"/>
<circle cx="1836.1" cy="402.1" r="1.5"/>
<circle cx="1655.3" cy="184.7" r="1.4"/>
<circle cx="1644.3" cy="153.6" r="1.4"/>
<circle cx="1635.8" cy="268.3" r="1.4"/>
<circle cx="1618.5" cy="278.2" r="1.4"/>
<circle cx="1701.7" cy="278.6" r="1.4"/>
<circle cx="1733.3" cy="281" r="1.4"/>
<circle cx="1756.5" cy="288.9" r="1.4"/>
<circle cx="1775.4" cy="260.4" r="1.4"/>
<circle cx="1784.1" cy="279.1" r="1.4"/>
<circle cx="1797" cy="280" r="1.4"/>
<circle cx="1788.8" cy="286.1" r="1.4"/>
<circle cx="1804.2" cy="299.7" r="1.4"/>
<circle cx="1805.2" cy="307.7" r="1.4"/>
<circle cx="1775.9" cy="317.5" r="1.4"/>
<circle cx="1788.3" cy="319.1" r="1.4"/>
<circle cx="1824.6" cy="375.6" r="1.4"/>
<circle cx="1770.5" cy="366.9" r="1.4"/>
<circle cx="1775.4" cy="371.4" r="1.4"/>
<circle cx="1741.9" cy="408.4" r="1.4"/>
<circle cx="1812.9" cy="420.6" r="1.4"/>
<circle cx="384.6" cy="152.9" r="1.5"/>
<circle cx="390.5" cy="173.1" r="1.5"/>
<circle cx="447.6" cy="209.5" r="1.5"/>
<circle cx="426" cy="223.1" r="1.5"/>
</g>
<rect x="963.2" y="126" width="61.5" height="5" fill="#fff"/>
<rect x="1044" y="126" width="19.4" height="5" fill="#fff"/>
<rect x="1204.2" y="126" width="21.2" height="5" fill="#fff"/>
<circle cx="205.9" cy="220.8" r="9.5" fill="#7CAE00" fill-opacity="0.8"/>
<circle cx="237.5" cy="400.2" r="9.5" fill="#7CAE00" fill-opacity="0.8"/>
<circle cx="494.6" cy="255.7" r="9.5" fill="#00BFC4" fill-opacity="0.8"/>
<circle cx="571" cy="193" r="35.6" fill="#F8766D" fill-opacity="0.8"/>
<circle cx="650.7" cy="157" r="9.5" fill="#F8766D" fill-opacity="0.8"/>
<circle cx="538.6" cy="232.5" r="9.5" fill="#F8766D" fill-opacity="0.8"/>
<circle cx="565.7" cy="268.8" r="22.5" fill="#F8766D" fill-opacity="0.8"/>
<circle cx="641.4" cy="225.5" r="22.5" fill="#F8766D" fill-opacity="0.8"/>
<circle cx="630.6" cy="256" r="9.5" fill="#F8766D" fill-opacity="0.8"/>
<circle cx="1586.9" cy="185.3" r="9.5" fill="#C77CFF" fill-opacity="0.8"/>
<circle cx="1556.6" cy="252.1" r="9.5" fill="#C77CFF" fill-opacity="0.8"/>
<circle cx="1682.4" cy="403.9" r="22.5" fill="#C77CFF" fill-opacity="0.8"/>
</g>
<g id="tree">
<text transform="translate(13.1,500.2) scale(1,1.065)" font-size="41.5" font-weight="bold">B</text>
<g stroke-width="1.05" stroke-dasharray="2 2.7" fill="none">
<line x1="591.5" y1="531.8" x2="753" y2="531.8" stroke="#8a8a8a"/>
<line x1="709.8" y1="570.5" x2="753" y2="570.5" stroke="#8a8a8a"/>
<line x1="426.7" y1="609.3" x2="753" y2="609.3" stroke="#8a8a8a"/>
<line x1="502.9" y1="648.1" x2="753" y2="648.1" stroke="#8a8a8a"/>
<line x1="708.4" y1="686.9" x2="753" y2="686.9" stroke="#8a8a8a"/>
<line x1="160.3" y1="725.6" x2="753" y2="725.6" stroke="#000"/>
<line x1="593.8" y1="764.4" x2="753" y2="764.4" stroke="#8a8a8a"/>
<line x1="491" y1="803.2" x2="753" y2="803.2" stroke="#8a8a8a"/>
<line x1="454.5" y1="842" x2="753" y2="842" stroke="#8a8a8a"/>
<line x1="496.5" y1="880.8" x2="753" y2="880.8" stroke="#8a8a8a"/>
<line x1="362.1" y1="919.5" x2="753" y2="919.5" stroke="#000"/>
<line x1="603.4" y1="958.3" x2="753" y2="958.3" stroke="#8a8a8a"/>
<line x1="506" y1="997.1" x2="753" y2="997.1" stroke="#000"/>
<line x1="747.7" y1="1035.9" x2="753" y2="1035.9" stroke="#8a8a8a"/>
<line x1="654" y1="1074.7" x2="753" y2="1074.7" stroke="#8a8a8a"/>
<line x1="575.8" y1="1113.5" x2="753" y2="1113.5" stroke="#000"/>
<line x1="617" y1="1152.2" x2="753" y2="1152.2" stroke="#8a8a8a"/>
<line x1="687.4" y1="1191" x2="753" y2="1191" stroke="#8a8a8a"/>
<line x1="362.1" y1="1229.8" x2="753" y2="1229.8" stroke="#000"/>
<line x1="583.3" y1="1268.6" x2="753" y2="1268.6" stroke="#8a8a8a"/>
<line x1="431.5" y1="1346.1" x2="753" y2="1346.1" stroke="#000"/>
<line x1="613.9" y1="1384.9" x2="753" y2="1384.9" stroke="#8a8a8a"/>
</g>
<polygon points="159,531.8 587.8,512.5 587.8,551" fill="#2e2e2e" stroke="#232323" stroke-width="3.4" stroke-linejoin="miter"/>
<polygon points="183.7,570.5 706.1,551.3 706.1,589.7" fill="#5f5f5f" stroke="#4a4a4a" stroke-width="3.4" stroke-linejoin="miter"/>
<polygon points="140.1,609.3 423,590.1 423,628.5" fill="#595959" stroke="#404040" stroke-width="3.4" stroke-linejoin="miter"/>
<polygon points="166.8,648.1 499.2,628.9 499.2,667.3" fill="#a1a1a1" stroke="#707070" stroke-width="3.4" stroke-linejoin="miter"/>
<polygon points="138.7,686.9 704.7,667.7 704.7,706.1" fill="#585858" stroke="#484848" stroke-width="3.4" stroke-linejoin="miter"/>
<polygon points="215.6,764.4 590.1,745.2 590.1,783.6" fill="#959595" stroke="#959595" stroke-width="3.4" stroke-linejoin="miter"/>
<polygon points="249.9,803.2 487.3,784 487.3,822.4" fill="#8e8e8e" stroke="#707070" stroke-width="3.4" stroke-linejoin="miter"/>
<polygon points="376.3,842 450.8,822.8 450.8,861.2" fill="#a7a7a7" stroke="#858585" stroke-width="3.4" stroke-linejoin="miter"/>
<polygon points="418.8,880.8 492.8,861.6 492.8,900" fill="#6c6c6c" stroke="#606060" stroke-width="3.4" stroke-linejoin="miter"/>
<polygon points="300,958.3 599.7,939.1 599.7,977.5" fill="#000" stroke="#000" stroke-width="3.4" stroke-linejoin="miter"/>
<polygon points="670,1035.9 744,1016.7 744,1055.1" fill="#4b4b4b" stroke="#3a3a3a" stroke-width="3.4" stroke-linejoin="miter"/>
<polygon points="576.3,1074.7 650.3,1055.5 650.3,1093.9" fill="#8d8d8d" stroke="#6b6b6b" stroke-width="3.4" stroke-linejoin="miter"/>
<polygon points="533,1152.2 613.3,1133 613.3,1171.4" fill="#606060" stroke="#4a4a4a" stroke-width="3.4" stroke-linejoin="miter"/>
<polygon points="474.5,1191 683.7,1171.8 683.7,1210.2" fill="#909090" stroke="#6e6e6e" stroke-width="3.4" stroke-linejoin="miter"/>
<polygon points="488.2,1268.6 579.6,1249.4 579.6,1287.8" fill="#a4a4a4" stroke="#909090" stroke-width="3.4" stroke-linejoin="miter"/>
<polygon points="393.7,1307.3 752.6,1288.1 752.6,1326.5" fill="#505050" stroke="#404040" stroke-width="3.4" stroke-linejoin="miter"/>
<polygon points="475.9,1384.9 610.2,1365.7 610.2,1404.1" fill="#8b8b8b" stroke="#6e6e6e" stroke-width="3.4" stroke-linejoin="miter"/>
<polygon points="491,1423.7 751.7,1404.5 751.7,1442.9" fill="#b6b6b6" stroke="#a6a6a6" stroke-width="3.4" stroke-linejoin="miter"/>
<g stroke="#000" stroke-width="3.8" fill="none" stroke-linecap="butt">
<line x1="0" y1="601.4" x2="16.9" y2="601.4"/>
<path d="M16.9,601.4 L16.9,569.2 Q16.9,551.1 53.9,551.1 L122.7,551.1"/>
<path d="M16.9,601.4 L16.9,633.5 Q16.9,651.6 20.2,651.6 L26.3,651.6"/>
<path d="M122.7,551.1 L122.7,538.7 Q122.7,531.8 135.8,531.8 L160,531.8"/>
<path d="M122.7,551.1 L122.7,563.5 Q122.7,570.5 144.4,570.5 L184.7,570.5"/>
<path d="M26.3,651.6 L26.3,624.5 Q26.3,609.3 66.5,609.3 L141.1,609.3"/>
<path d="M26.3,651.6 L26.3,678.7 Q26.3,693.9 37.3,693.9 L57.6,693.9"/>
<path d="M57.6,693.9 L57.6,664.6 Q57.6,648.1 96.2,648.1 L167.8,648.1"/>
<path d="M57.6,693.9 L57.6,723.2 Q57.6,739.7 59.8,739.7 L63.9,739.7"/>
<path d="M63.9,739.7 L63.9,705.9 Q63.9,686.9 90.4,686.9 L139.7,686.9"/>
<path d="M63.9,739.7 L63.9,773.5 Q63.9,792.5 69.5,792.5 L80,792.5"/>
<path d="M80,792.5 L80,749.7 Q80,725.6 106.4,725.6 L155.3,725.6"/>
<path d="M80,792.5 L80,835.3 Q80,859.4 85.6,859.4 L95.9,859.4"/>
<path d="M95.9,859.4 L95.9,798.6 Q95.9,764.4 138.1,764.4 L216.6,764.4"/>
<path d="M95.9,859.4 L95.9,920.2 Q95.9,954.4 126.2,954.4 L182.6,954.4"/>
<path d="M182.6,954.4 L182.6,857.6 Q182.6,803.2 206.5,803.2 L250.9,803.2"/>
<path d="M182.6,954.4 L182.6,1051.1 Q182.6,1105.6 200.5,1105.6 L233.8,1105.6"/>
<path d="M233.8,1105.6 L233.8,964 Q233.8,884.4 236.6,884.4 L241.8,884.4"/>
<path d="M233.8,1105.6 L233.8,1247.1 Q233.8,1326.7 248.3,1326.7 L275.3,1326.7"/>
<path d="M241.8,884.4 L241.8,857.3 Q241.8,842 289.2,842 L377.3,842"/>
<path d="M241.8,884.4 L241.8,911.6 Q241.8,926.8 249.6,926.8 L264,926.8"/>
<path d="M264,926.8 L264,897.3 Q264,880.8 318.5,880.8 L419.8,880.8"/>
<path d="M264,926.8 L264,956.3 Q264,972.9 270.2,972.9 L281.6,972.9"/>
<path d="M281.6,972.9 L281.6,938.7 Q281.6,919.5 308,919.5 L357.1,919.5"/>
<path d="M281.6,972.9 L281.6,1007 Q281.6,1026.2 287.4,1026.2 L298.1,1026.2"/>
<path d="M298.1,1026.2 L298.1,982.8 Q298.1,958.3 299.1,958.3 L301,958.3"/>
<path d="M298.1,1026.2 L298.1,1069.6 Q298.1,1094.1 313.6,1094.1 L342.5,1094.1"/>
<path d="M342.5,1094.1 L342.5,1050.6 Q342.5,1026.2 371.6,1026.2 L425.6,1026.2"/>
<path d="M342.5,1094.1 L342.5,1137.5 Q342.5,1161.9 366.5,1161.9 L411,1161.9"/>
<path d="M425.6,1026.2 L425.6,1007.6 Q425.6,997.1 452,997.1 L501,997.1"/>
<path d="M425.6,1026.2 L425.6,1044.8 Q425.6,1055.3 435.6,1055.3 L454.3,1055.3"/>
<path d="M454.3,1055.3 L454.3,1042.9 Q454.3,1035.9 530.1,1035.9 L671,1035.9"/>
<path d="M454.3,1055.3 L454.3,1067.7 Q454.3,1074.7 497.3,1074.7 L577.3,1074.7"/>
<path d="M411,1161.9 L411,1143.3 Q411,1132.8 440.2,1132.8 L494.5,1132.8"/>
<path d="M411,1161.9 L411,1180.5 Q411,1191 433.6,1191 L475.5,1191"/>
<path d="M494.5,1132.8 L494.5,1120.4 Q494.5,1113.5 521.2,1113.5 L570.8,1113.5"/>
<path d="M494.5,1132.8 L494.5,1145.2 Q494.5,1152.2 508.3,1152.2 L534,1152.2"/>
<path d="M275.3,1326.7 L275.3,1283.3 Q275.3,1258.9 277.5,1258.9 L281.7,1258.9"/>
<path d="M275.3,1326.7 L275.3,1370.2 Q275.3,1394.6 296.4,1394.6 L335.6,1394.6"/>
<path d="M281.7,1258.9 L281.7,1240.3 Q281.7,1229.8 308.1,1229.8 L357.1,1229.8"/>
<path d="M281.7,1258.9 L281.7,1277.5 Q281.7,1288 292.9,1288 L313.7,1288"/>
<path d="M313.7,1288 L313.7,1275.6 Q313.7,1268.6 375.1,1268.6 L489.2,1268.6"/>
<path d="M313.7,1288 L313.7,1300.4 Q313.7,1307.3 342.1,1307.3 L394.7,1307.3"/>
<path d="M335.6,1394.6 L335.6,1376 Q335.6,1365.5 340.9,1365.5 L350.7,1365.5"/>
<path d="M335.6,1394.6 L335.6,1413.2 Q335.6,1423.7 390.3,1423.7 L492,1423.7"/>
<path d="M350.7,1365.5 L350.7,1353.1 Q350.7,1346.1 377.2,1346.1 L426.5,1346.1"/>
<path d="M350.7,1365.5 L350.7,1377.9 Q350.7,1384.9 394.9,1384.9 L476.9,1384.9"/>
</g>
<circle cx="155.3" cy="725.6" r="4.2" fill="#000"/>
<circle cx="357.1" cy="919.5" r="4.2" fill="#000"/>
<circle cx="501" cy="997.1" r="4.2" fill="#000"/>
<circle cx="570.8" cy="1113.5" r="4.2" fill="#000"/>
<circle cx="357.1" cy="1229.8" r="4.2" fill="#000"/>
<circle cx="426.5" cy="1346.1" r="4.2" fill="#000"/>
<rect x="1.5" y="1335.9" width="241.4" height="87.4" fill="#fff" stroke="#000" stroke-width="1.5"/>
<text x="13.3" y="1361" font-size="20.8" font-weight="bold">Reproductive mode</text>
<path d="M13.2,1362.6 H207.8" stroke="#000" stroke-width="1.4" fill="none"/>
<text x="12.9" y="1386" font-size="20.8"><tspan fill="#888">BS</tspan>: Broadcast spawner</text>
<text x="12.9" y="1410.7" font-size="20.8"><tspan fill="#888">BR</tspan>: Brooder</text>
</g>
<g id="table">
<g font-size="30" font-weight="bold">
<text x="772.5" y="540.5" fill="#222">Scleralcyonacea</text>
<text x="772.5" y="579.3" fill="#444">Malacalcyonacea</text>
<text x="772.5" y="618.1" fill="#3a3a3a">Spirularia</text>
<text x="772.5" y="656.9" fill="#707070">Zoantharia</text>
<text x="772.5" y="695.7" fill="#444">Actinaria</text>
<text x="772.5" y="734.4" fill="#000">Relicanthidae</text>
<text x="772.5" y="773.2" fill="#999">Antipatharia</text>
<text x="772.5" y="812" fill="#707070">Corallimorpharia</text>
<text x="772.5" y="850.8" fill="#888">Micrabaciidae</text>
<text x="772.5" y="889.6" fill="#606060">Pocilloporidae</text>
<text x="772.5" y="928.3" fill="#000">Caryophylliidae</text>
<text x="772.5" y="967.1" fill="#000">Caryophylliidae</text>
<text x="772.5" y="1005.9" fill="#000">Montastraeidae</text>
<text x="772.5" y="1044.7" fill="#333">Merulinidae</text>
<text x="772.5" y="1083.5" fill="#666">Faviidae</text>
<text x="772.5" y="1122.2" fill="#000">Caryophylliidae</text>
<text x="772.5" y="1161" fill="#444">Meandrinidae</text>
<text x="772.5" y="1199.8" fill="#777">Oculinidae</text>
<text x="772.5" y="1238.6" fill="#000">Rhizangiidae</text>
<text x="772.5" y="1277.4" fill="#999">Agariciidae</text>
<text x="772.5" y="1316.1" fill="#444">Acroporidae</text>
<text x="772.5" y="1354.9" fill="#000">Flabellidae</text>
<text x="772.5" y="1393.7" fill="#666">Dendrophylliidae</text>
<text x="772.5" y="1432.5" fill="#999">Poritidae</text>
</g>
<g stroke="#000" stroke-width="4" stroke-dasharray="4 3.85" fill="none">
<line x1="1012.6" y1="532.7" x2="1086.5" y2="532.7"/>
<line x1="1022" y1="573.7" x2="1086.5" y2="573.7"/>
<line x1="982.9" y1="881.3" x2="1080.8" y2="881.3"/>
<line x1="995.4" y1="998.3" x2="1084.5" y2="998.3"/>
<line x1="940.3" y1="1037.3" x2="1084.5" y2="1037.3"/>
<line x1="893.8" y1="1075.3" x2="1086.1" y2="1075.3"/>
<line x1="928.8" y1="1192.3" x2="1085.4" y2="1192.3"/>
<line x1="961.6" y1="1230.8" x2="1083.5" y2="1230.8"/>
<line x1="935.7" y1="1269.3" x2="1080.8" y2="1269.3"/>
<line x1="951" y1="1308.3" x2="1085.4" y2="1308.3"/>
<line x1="903.3" y1="1424.3" x2="1085.4" y2="1424.3"/>
</g>
<g font-size="20.8" font-weight="bold" text-anchor="middle">
<text x="1166.6" y="491">Ocean</text>
<text x="1403.2" y="491">Genus/species</text>
<text x="1637.7" y="477.9">Reproductive</text>
<text x="1637.7" y="502.5">Mode</text>
<text x="1842" y="491">Marker</text>
</g>
<g font-size="20.8">
<text x="1093.2" y="541.3" fill="#F57CF1">Western pacific</text>
<text x="1093.2" y="577.4" fill="#F68A82">Caribbean</text>
<text x="1093.2" y="884.5" fill="#86B525">Central Pacific</text>
<text x="1093.2" y="909.6" fill="#F57CF1">Western Pacific</text>
<text x="1093.2" y="1010" fill="#F68A82">Caribbean</text>
<text x="1093.2" y="1042.8" fill="#F68A82">Caribbean</text>
<text x="1093.2" y="1080.8" fill="#F68A82">Caribbean</text>
<text x="1093.2" y="1201.8" fill="#F68A82">Caribbean</text>
<text x="1093.2" y="1239" fill="#F68A82">Caribbean</text>
<text x="1093.2" y="1272.9" fill="#86B525">Central Pacific</text>
<text x="1093.2" y="1311" fill="#F68A82">Caribbean</text>
<text x="1093.2" y="1432.7" fill="#F68A82">Caribbean</text>
<text x="1093.2" y="1457.8" fill="#2BC0C6">Eastern</text>
<text x="1093.2" y="1483" fill="#2BC0C6">Tropical Pacific</text>
</g>
<g font-size="20.8" text-anchor="middle" font-style="italic">
<text x="1404" y="541.3">Heliopora coerulea</text>
<text x="1404" y="577.4"><tspan x="1407.4">Eunicea flexuosa</tspan></text>
<text x="1404" y="884.5">Pocillopora <tspan font-style="normal">spp.</tspan></text>
<text x="1404" y="909.6">Seriatopora hystrix</text>
<text x="1404" y="1010">Montastraea cavernosa</text>
<text x="1404" y="1040.5">Orbicella annularis/franski</text>
<text x="1404" y="1078.9">Favia spp.</text>
<text x="1404" y="1201.8">Oculina <tspan font-style="normal">spp.</tspan></text>
<text x="1404" y="1239.8">Siderastraea siderea</text>
<text x="1404" y="1271">Leptoseris <tspan font-style="normal">spp.</tspan></text>
<text x="1404" y="1302.1">Agaricia fragilis</text>
<text x="1404" y="1327">Acropora palmata/cervicornis</text>
<text x="1404" y="1432.7">Porites astreoides</text>
<text x="1404" y="1457.8">Porites evermanni/lobata</text>
</g>
<g font-size="20.8" text-anchor="middle" fill="#878787">
<text x="1637.7" y="541.3">BR</text>
<text x="1637.7" y="577.4">BS</text>
<text x="1637.7" y="884.5">BR</text>
<text x="1637.7" y="909.6">BR</text>
<text x="1637.7" y="1010">BS</text>
<text x="1637.7" y="1042.8">BS</text>
<text x="1637.7" y="1080.8">BR</text>
<text x="1637.7" y="1201.8">BS</text>
<text x="1637.7" y="1239">BS</text>
<text x="1637.7" y="1263.8">BR</text>
<text x="1637.7" y="1314">BR</text>
<text x="1637.7" y="1339.1">BS</text>
<text x="1637.7" y="1432.7">BR</text>
<text x="1637.7" y="1457.8">BR</text>
</g>
<g font-size="20.8" text-anchor="middle">
<text x="1841.6" y="541.3">SNPs</text>
<text x="1841.6" y="577.4">Morph-Micro-SNPs</text>
<text x="1841.6" y="884.5">RFLPs-SNPs</text>
<text x="1841.6" y="909.6">Micro</text>
<text x="1841.6" y="1010">SNPs</text>
<text x="1841.6" y="1034.8">Morph-Micro-SNPs-</text>
<text x="1841.6" y="1059.9">Pheno</text>
<text x="1841.6" y="1084.6">Morph-Micro</text>
<text x="1841.6" y="1201.8">Micro</text>
<text x="1841.6" y="1239">Micro</text>
<text x="1841.6" y="1263.8">Micro</text>
<text x="1841.6" y="1314">SNPs</text>
<text x="1841.6" y="1339.1">Micro-SNPs</text>
<text x="1841.6" y="1432.7">Micro</text>
<text x="1841.6" y="1457.8">Micro</text>
</g>
</g>
<g id="hist">
<text transform="translate(13.2,1562.8) scale(1,1.075)" font-size="41.5" font-weight="bold">C</text>
<path d="M440.3,2318.8 L440.3,2309.3 L476.1,2309.3 L476.1,2299.9 L512,2299.9 L512,2309.3 L547.8,2309.3 L547.8,2233.7 L583.6,2233.7 L583.6,2025.8 L619.5,2025.8 L619.5,1685.4 L655.3,1685.4 L655.3,1638.2 L691.1,1638.2 L691.1,1893.4 L726.9,1893.4 L726.9,2120.3 L762.8,2120.3 L762.8,2214.8 L798.6,2214.8 L798.6,2290.4 L834.4,2290.4 L834.4,2299.9 L870.3,2299.9 L870.3,2214.8 L906.1,2214.8 L906.1,2233.7 L941.9,2233.7 L941.9,2262.1 L977.8,2262.1 L977.8,2281 L1013.6,2281 L1013.6,2309.3 L1049.4,2309.3 L1049.4,2318.8 Z" fill="#44546A"/>
<path d="M1121.1,2318.8 L1121.1,2299.9 L1156.9,2299.9 L1156.9,2309.3 L1192.7,2309.3 L1192.7,2309.3 L1228.6,2309.3 L1228.6,2262.1 L1264.4,2262.1 L1264.4,2195.9 L1300.2,2195.9 L1300.2,2177 L1336,2177 L1336,2139.2 L1371.9,2139.2 L1371.9,2205.4 L1407.7,2205.4 L1407.7,2214.8 L1443.5,2214.8 L1443.5,2262.1 L1479.4,2262.1 L1479.4,2262.1 L1515.2,2262.1 L1515.2,2262.1 L1551,2262.1 L1551,2309.3 L1586.9,2309.3 L1586.9,2299.9 L1622.7,2299.9 L1622.7,2318.8 Z" fill="#843615"/>
<g stroke="#000" stroke-width="4.7" fill="none">
<path d="M261.5,1562.1 V2321.2"/>
<path d="M248.1,2318.8 H1801.8"/>
<path d="M248.1,2129.7 H261.5"/>
<path d="M248.1,1940.7 H261.5"/>
<path d="M248.1,1751.6 H261.5"/>
<path d="M248.1,1562.6 H261.5"/>
</g>
<g font-size="54.3" text-anchor="end">
<text x="222.1" y="2333.2">0</text>
<text x="222.1" y="2144.1">20</text>
<text x="222.1" y="1955.1">40</text>
<text x="222.1" y="1766">60</text>
<text x="222.1" y="1577">80</text>
</g>
<text transform="translate(142.6,1942) rotate(-90)" font-size="53" text-anchor="middle">Frequency</text>
<g font-size="51">
<text transform="translate(270.5,2378.5) rotate(45)">1:00</text>
<text transform="translate(414.1,2378.5) rotate(45)">1:20</text>
<text transform="translate(557.7,2378.5) rotate(45)">1:40</text>
<text transform="translate(701.3,2378.5) rotate(45)">2:00</text>
<text transform="translate(844.9,2378.5) rotate(45)">2:20</text>
<text transform="translate(988.5,2378.5) rotate(45)">2:40</text>
<text transform="translate(1132.1,2378.5) rotate(45)">3:00</text>
<text transform="translate(1275.7,2378.5) rotate(45)">3:20</text>
<text transform="translate(1419.3,2378.5) rotate(45)">3:40</text>
<text transform="translate(1562.9,2378.5) rotate(45)">4:00</text>
<text transform="translate(1706.5,2378.5) rotate(45)">4:20</text>
</g>
<text x="1031.5" y="2502.8" font-size="53" text-anchor="middle">Mean time after sunset</text>
<text x="474.3" y="1603.5" font-size="61.7" font-weight="bold" fill="#44546A"><tspan font-style="italic">O. franksi</tspan> (8m)</text>
<text x="1101.5" y="2082.5" font-size="61.7" font-weight="bold" fill="#C0501D"><tspan font-style="italic">O. annularis</tspan> (2.5 m)</text>
</g>
</svg>
</body></html>
